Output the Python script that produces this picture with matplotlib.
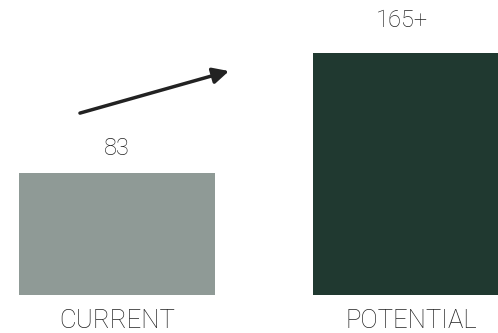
import matplotlib
matplotlib.use("Agg")
import matplotlib.pyplot as plt

# data
categories = ["CURRENT", "POTENTIAL"]
values = [83, 165]
value_labels = ["83", "165+"]
colors = ["#8f9a96", "#203930"]

plt.rcParams['font.family'] = ['Roboto', 'DejaVu Sans']

fig = plt.figure(figsize=(4.98, 3.33), dpi=100)
ax = fig.add_axes([0, 0, 1, 1])
ax.set_xlim(-0.398, 1.296)
ax.set_ylim(-25.9, 201.4)
ax.axis('off')

x = list(range(len(categories)))
ax.bar(x, values, width=0.667, color=colors)

# value labels above the bars
offsets = [(0.0, 16.7), (-0.03, 22.6)]
for xi, v, lab, (dx, dy) in zip(x, values, value_labels, offsets):
    ax.text(xi + dx, v + dy, lab, ha='center', va='center',
            fontsize=17, fontweight='light', color='#222222')

# category names under the bars
for xi, name in zip(x, categories):
    ax.text(xi, -17.5, name, ha='center', va='center',
            fontsize=18.5, fontweight='light', color='#222222')

# growth arrow
ax.annotate('', xy=(0.381, 152.9), xytext=(-0.126, 124.2),
            arrowprops=dict(arrowstyle='-|>', lw=2.5, color='#222222',
                            mutation_scale=24, shrinkA=0, shrinkB=0))

fig.savefig('out.png', dpi=100)
